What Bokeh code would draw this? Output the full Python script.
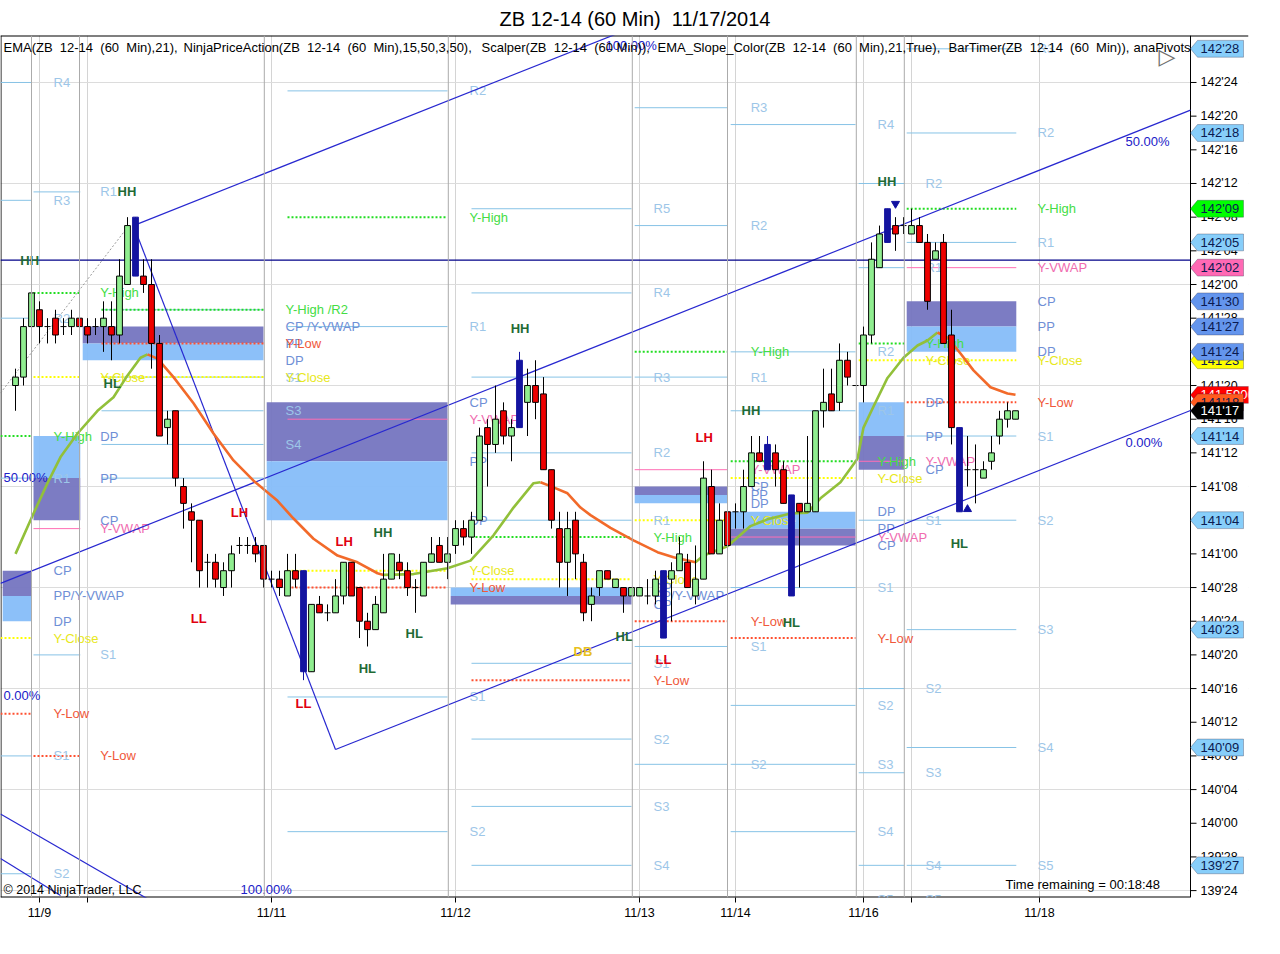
import numpy as np
from bokeh.plotting import figure
from bokeh.models import (ColumnDataSource, Range1d, FixedTicker, CustomJSTickFormatter,
                          Label, PolyAnnotation, Span)
from bokeh.core.properties import value
from bokeh.embed import file_html
from bokeh.resources import INLINE

FONT = "Liberation Sans"
BASE = 139.0  # all prices are kept in 32nds above 139'00


def px(t):
    return BASE + np.asarray(t, dtype=float) / 32.0


# ---------------- hourly bars (32nds above 139'00) ----------------
bar_open = [84, 85, 91, 93, 91, 92, 91, 91, 92, 91,
            91, 91, 91, 90, 96, 104, 97, 96, 89, 79,
            81, 72, 69, 68, 63, 63, 60, 62, 65, 65,
            65, 65, 61, 61, 59, 62, 62, 50, 58, 57,
            57, 59, 63, 60, 56, 55, 57, 61, 63, 62,
            60, 59, 63, 65, 63, 65, 67, 66, 68, 79,
            77, 81, 78, 79, 82, 84, 83, 74, 67, 63,
            68, 63, 58, 60, 62, 60, 60, 59, 59, 59,
            59, 62, 61, 62, 63, 59, 61, 72, 64, 69,
            69, 69, 72, 76, 77, 76, 74, 71, 70, 69,
            69, 81, 83, 82, 87, 84, 84, 90, 98, 105,
            103, 103, 102, 103, 101, 99, 101, 90, 79, 74,
            74, 73, 75, 78, 80, 80]
bar_high = [86, 92, 95, 94, 92, 93, 92, 93, 93, 92,
            92, 94, 94, 99, 104, 104, 99, 99, 90, 81,
            81, 73, 70, 68, 64, 64, 63, 65, 66, 66,
            66, 65, 62, 62, 64, 64, 62, 58, 59, 58,
            61, 63, 63, 60, 57, 59, 64, 64, 64, 63,
            61, 63, 66, 66, 66, 68, 68, 69, 79, 80,
            84, 82, 80, 88, 86, 87, 85, 74, 69, 69,
            69, 64, 60, 62, 62, 61, 60, 60, 60, 61,
            62, 62, 63, 66, 64, 65, 75, 74, 70, 70,
            70, 74, 78, 78, 78, 77, 75, 71, 70, 78,
            81, 86, 86, 89, 88, 84, 91, 101, 103, 105,
            104, 104, 105, 104, 102, 101, 102, 93, 79, 78,
            77, 75, 78, 81, 82, 81]
bar_low = [81, 84, 90, 89, 89, 89, 90, 90, 91, 89,
           90, 88, 87, 89, 96, 97, 95, 86, 78, 77,
           72, 67, 63, 60, 60, 60, 59, 60, 64, 64,
           63, 60, 60, 59, 59, 60, 49, 50, 57, 56,
           57, 58, 59, 54, 53, 55, 57, 61, 61, 59,
           57, 59, 63, 63, 61, 64, 65, 64, 68, 72,
           76, 77, 75, 79, 78, 80, 74, 67, 60, 59,
           61, 56, 56, 59, 61, 60, 57, 59, 59, 58,
           58, 54, 56, 62, 60, 58, 61, 64, 64, 65,
           67, 67, 72, 75, 74, 72, 70, 59, 60, 69,
           69, 79, 81, 81, 84, 84, 82, 89, 98, 101,
           100, 102, 102, 101, 93, 99, 89, 77, 69, 72,
           70, 73, 74, 77, 79, 80]
bar_close = [85, 91, 95, 91, 91, 90, 91, 92, 91, 90,
             91, 92, 90, 97, 103, 97, 96, 89, 78, 80,
             73, 70, 68, 62, 63, 61, 62, 64, 65, 65,
             64, 61, 61, 60, 62, 61, 50, 58, 57, 57,
             59, 63, 59, 56, 55, 58, 61, 64, 62, 60,
             60, 63, 64, 63, 64, 67, 66, 68, 78, 77,
             80, 78, 79, 87, 84, 82, 74, 68, 63, 67,
             64, 57, 59, 62, 61, 61, 59, 60, 60, 59,
             61, 54, 62, 64, 60, 61, 73, 64, 68, 65,
             69, 72, 76, 75, 74, 74, 70, 59, 69, 70,
             81, 82, 81, 87, 85, 84, 90, 99, 102, 101,
             102, 103, 103, 101, 94, 100, 89, 79, 69, 74,
             74, 74, 76, 80, 81, 81]
blue_bars = [15, 36, 63, 81, 94, 97, 109, 118]

# ---------------- EMA(21) ----------------
ema_k = [0, 2.25, 4, 5.625, 7.75, 10.25, 12.25, 14, 15.625, 16.5,
         17.75, 19.75, 22.25, 24.75, 27.25, 29.75, 32.75, 34.75, 37.25, 40.25,
         42.75, 45.25, 46, 49.75, 54, 56.875, 59.75, 62.25, 64.75, 65.625,
         67.25, 69, 70.625, 71.875, 74.375, 77.25, 80.25, 82.25, 85, 86,
         89, 91.875, 94, 96.875, 99, 100.625, 103.125, 105.25, 106, 107.25,
         109, 111, 112.75, 114, 115.25, 116.5, 118.125, 119.75, 121.875, 124, 125]
ema_t = [64.0, 68.8, 72.4, 75.5, 78.3, 81.0, 82.6, 85.2, 87.3, 87.7,
         87.2, 85.0, 81.9, 78.3, 75.1, 72.7, 70.3, 68.2, 65.8, 63.8,
         63.0, 61.7, 61.5, 61.6, 62.3, 63.2, 66.2, 69.5, 72.4, 72.5,
         71.9, 71.2, 69.5, 68.6, 67.1, 65.6, 64.2, 63.6, 63.0, 63.8,
         64.9, 67.3, 68.1, 68.8, 68.9, 70.6, 72.5, 75.3, 79.0, 81.5,
         84.9, 87.3, 88.75, 89.35, 90.3, 89.7, 87.8, 85.8, 83.8, 83.05, 82.9]

# ---------------- axis ticks ----------------
date_tick_k = [3, 9, 32, 55, 78, 90, 106, 112, 128]
date_tick_labels = ["11/9", "", "11/11", "11/12", "11/13", "11/14", "11/16", "", "11/18"]
session_break_k = [2.0, 8.0, 31.1, 54.1, 77.1, 89.0, 105.1, 111.1]
price_tick_32 = list(range(24, 121, 4))
price_grid_32 = list(range(24, 121, 12))

# ---------------- pivot sessions ----------------
zone_line_k0 = [-1.875, 2.25, 10.75, 34.0, 57.0, 77.4, 89.4, 105.4, 111.4]
zone_box_k0 = [-1.6, 2.25, 8.4, 31.4, 54.4, 77.4, 89.4, 105.4, 111.4]
zone_k1 = [2.0, 8.1, 31.0, 54.0, 77.0, 89.0, 105.0, 111.1, 125.1]
zone_label_k = [4.75, 10.6, 33.75, 56.75, 79.75, 91.9, 107.75, 113.75, 127.75]

piv_zone = ([0] * 12 + [1] * 9 + [2] * 11 + [3] * 11 + [4] * 15 + [5] * 12 + [6] * 15 + [7] * 13 + [8] * 15)
piv_kind = ["R", "R", "R", "YH", "R", "CP", "PP", "DP", "YC", "YL", "R", "R",
            "R", "YH", "YC", "DP", "PP", "CP", "VW", "R", "YL",
            "R", "YH", "CP", "PP", "YL", "DP", "R", "YC", "R", "R", "R",
            "R", "YH", "R", "CP", "VW", "PP", "DP", "YC", "YL", "R", "R",
            "R", "R", "R", "R", "R", "YH", "YC", "DP", "PP", "CP", "R", "YL", "R", "R", "R",
            "R", "R", "YH", "R", "VW", "CP", "PP", "DP", "YC", "YL", "R", "R",
            "R", "R", "R", "YH", "YC", "DP", "PP", "VW", "CP", "R", "YL", "R", "R", "R", "R",
            "R", "R", "YH", "YC", "DP", "PP", "VW", "CP", "R", "R", "R", "R", "R",
            "R", "R", "YH", "R", "VW", "CP", "PP", "DP", "YC", "YL", "R", "R", "R", "R", "R"]
piv_t = [120, 106, 92, 78, 73, 62, 59, 56, 54, 45, 40, 26,
         107, 95, 85, 78, 73, 68, 67, 52, 40,
         93, 93, 91, 89, 89, 87, 85, 85, 81, 77, 73,
         119, 104, 91, 82, 80, 75, 68, 62, 60, 47, 31,
         105, 95, 85, 76, 68, 66, 61, 60, 59, 58, 51, 49, 42, 34, 27,
         117, 103, 88, 85, 74, 72, 71, 70, 68, 56, 53, 39,
         115, 88, 81, 75, 73, 69, 67, 66, 65, 60, 54, 46, 39, 31, 23,
         108, 98, 89, 87, 82, 78, 75, 74, 68, 48, 38, 27, 23,
         124, 114, 105, 101, 98, 94, 91, 88, 87, 82, 78, 68, 55, 41, 27]
piv_text = ["R4", "R3", "R2", "Y-High", "R1", "CP", "PP/Y-VWAP", "DP", "Y-Close", "Y-Low", "S1", "S2",
            "R1", "Y-High", "Y-Close", "DP", "PP", "CP", "Y-VWAP", "S1", "Y-Low",
            "", "Y-High /R2", "CP /Y-VWAP", "PP", "Y-Low", "DP", "S1", "Y-Close", "S3", "S4", "",
            "R2", "Y-High", "R1", "CP", "Y-VWAP", "PP", "DP", "Y-Close", "Y-Low", "S1", "S2",
            "R5", "R4", "R3", "R2", "R1", "Y-High", "Y-Close", "DP", "PP/Y-VWAP", "CP", "S1", "Y-Low", "S2", "S3", "S4",
            "R3", "R2", "Y-High", "R1", "Y-VWAP", "CP", "PP", "DP", "Y-Close", "Y-Low", "S1", "S2",
            "R4", "R2", "R1", "Y-High", "Y-Close", "DP", "PP", "Y-VWAP", "CP", "S1", "Y-Low", "S2", "S3", "S4", "S5",
            "R2", "R1", "Y-High", "Y-Close", "DP", "PP", "Y-VWAP", "CP", "S1", "S2", "S3", "S4", "S5",
            "R3", "R2", "Y-High", "R1", "Y-VWAP", "CP", "PP", "DP", "Y-Close", "Y-Low", "S1", "S2", "S3", "S4", "S5"]

# ---------------- swing labels ----------------
sw_k = [0.6, 12.75, 11.0, 21.9, 26.9, 40.0, 44.75, 48.75, 42.9, 35.0,
        61.9, 69.75, 75.0, 80.0, 85.0, 90.75, 95.9, 107.75, 116.9]
sw_t = [98.85, 107.05, 84.24, 56.32, 68.91, 65.47, 66.54, 54.54, 50.38, 46.22,
        90.77, 52.40, 54.18, 51.45, 77.82, 81.03, 55.85, 108.24, 65.23]
sw_text = ["HH", "HH", "HL", "LL", "LH", "LH", "HH", "HL", "HL", "LL",
           "HH", "DB", "HL", "LL", "LH", "HH", "HL", "HH", "HL"]

# ---------------- drawn lines (channel) ----------------
ch_k0 = [14.75, -1.875, 40.0, 14.75, -1.875, -1.875]
ch_t0 = [103.0, 60.5, 40.76, 103.0, 33.1, 27.8]
ch_k1 = [78.125, 146.875, 146.875, 40.0, 16.875, 5.625]
ch_t1 = [126.9, 116.72, 81.03, 40.76, 22.82, 23.41]
dash_k = [-1.875, 14.0]
dash_t = [83.1, 102.8]
hline_t = 98.9

fib_k = [73.75, 138.75, 138.75, 28.125, -1.5, -1.5]
fib_t = [124.39, 112.99, 77.23, 24.12, 73.07, 47.17]
fib_text = ["100.00%", "50.00%", "0.00%", "100.00%", "50.00%", "0.00%"]

arrow_k = [110, 119]
arrow_t = [105.6, 69.3]
arrow_dir = ["down", "up"]

# right-axis price markers
tag_t = [27, 41, 55, 68, 78, 124, 114, 105, 101, 98, 87, 94, 91, 88, 82.88, 82, 81]
tag_kind = ["R", "R", "R", "R", "R", "R", "R", "YH", "R", "VW", "YC", "P", "P", "P", "EMA", "YL", "LAST"]
ema_last_value = 141.59006

# ---------------- styling tables ----------------
LINE_COL = {"R": "#87C3E6", "YH": "#22DD22", "YC": "#FFFF00", "YL": "#FF5030", "VW": "#FF6EB4"}
LABEL_COL = {"R": "#9DC6E8", "CP": "#6F8FD6", "PP": "#6F8FD6", "DP": "#6F8FD6",
             "YH": "#44DD44", "YC": "#E8E820", "YL": "#F0583A", "VW": "#F06CB0"}
TAG_FILL = {"R": "#87CEFA", "YH": "#00FF00", "VW": "#FF69B4", "YC": "#FFFF00", "P": "#6495ED",
            "EMA": "#FF0000", "YL": "#FF5A1E", "LAST": "#000000"}
TAG_TEXT = {"EMA": "white", "LAST": "white"}


def kx(page_x):          # page pixel -> bar index (layout helper for decorations)
    return (page_x - 15) / 8.0


AXIS_K = kx(1190)        # price-axis line of the chart window
FRAME_W = 1248
Y_LO, Y_HI = float(px(23.18)), float(px(125.58))

# ---------------- figure ----------------
p = figure(frame_width=FRAME_W, frame_height=862,
           x_range=Range1d(kx(0), kx(FRAME_W)), y_range=Range1d(Y_LO, Y_HI),
           y_axis_location="right", toolbar_location=None, output_backend="svg",
           title="ZB 12-14 (60 Min) \u00a011/17/2014",
           min_border_left=0, min_border_right=32, min_border_top=35,
           min_border_bottom=30, background_fill_color="white", border_fill_color="white")
p.title.align = "left"
p.title.offset = 499
p.title.standoff = 11
p.title.text_font = FONT
p.title.text_font_size = "20px"
p.title.text_font_style = "normal"
p.title.text_color = "black"
p.outline_line_color = None

p.xaxis.ticker = FixedTicker(ticks=date_tick_k)
p.xaxis.major_label_overrides = {k: lab for k, lab in zip(date_tick_k, date_tick_labels)}
p.xaxis.major_tick_out = 5
p.xaxis.major_tick_in = 0
p.xaxis.minor_tick_out = 0
p.xaxis.minor_tick_in = 0
p.xaxis.axis_line_color = None
p.xaxis.major_tick_line_color = "black"
p.xaxis.major_label_text_font = FONT
p.xaxis.major_label_text_font_size = "12.5px"
p.xaxis.major_label_text_color = "black"
p.xaxis.major_label_standoff = 3

price_ticks = list(px(price_tick_32))
p.yaxis.ticker = FixedTicker(ticks=price_ticks)
p.yaxis.formatter = CustomJSTickFormatter(code="""
    const w = Math.floor(tick + 1e-6);
    const f = Math.round((tick - w) * 32);
    return w + "'" + String(f).padStart(2, "0");
""")
p.yaxis.major_tick_out = 0
p.yaxis.major_tick_in = 0
p.yaxis.minor_tick_out = 0
p.yaxis.minor_tick_in = 0
p.yaxis.axis_line_color = None
p.yaxis.major_label_text_font = FONT
p.yaxis.major_label_text_font_size = "12.5px"
p.yaxis.major_label_text_color = "black"
p.yaxis.major_label_standoff = -(FRAME_W - 1200)

p.xgrid.ticker = FixedTicker(ticks=date_tick_k)
p.xgrid.grid_line_color = "#D4D4D4"
p.ygrid.ticker = FixedTicker(ticks=list(px(price_grid_32)))
p.ygrid.grid_line_color = "#DCDCDC"

# price-scale strip of the chart window (right of the plotting area)
p.quad(left=AXIS_K, right=kx(FRAME_W + 5), bottom=px(20), top=px(130), fill_color="white", line_color=None)
p.segment(x0=[AXIS_K] * len(price_ticks), x1=[kx(1196)] * len(price_ticks), y0=price_ticks, y1=price_ticks,
          line_color="black", line_width=1)

# chart-window border: top edge, left edge, bottom edge of plotting area, price-axis line
p.segment(x0=[kx(0), kx(0.5), kx(0), AXIS_K], x1=[kx(FRAME_W), kx(0.5), AXIS_K, AXIS_K],
          y0=[Y_HI, Y_LO, Y_LO, Y_LO], y1=[Y_HI, Y_HI, Y_LO, Y_HI],
          line_color="black", line_width=[2, 1, 2, 1])

for k in session_break_k:
    p.add_layout(Span(location=k, dimension="height", line_color="#ABABAB", line_width=1))

# ---------------- pivot zone boxes ----------------
box_l, box_r, box_top, box_bot, box_col = [], [], [], [], []
for z in range(len(zone_k1)):
    lv = {piv_kind[i]: piv_t[i] for i in range(len(piv_t)) if piv_zone[i] == z and piv_kind[i] in ("CP", "PP", "DP")}
    cp, pp, dp = px(lv["CP"]), px(lv["PP"]), px(lv["DP"])
    box_l += [zone_box_k0[z], zone_box_k0[z]]
    box_r += [zone_k1[z], zone_k1[z]]
    box_top += [max(cp, pp), max(pp, dp)]
    box_bot += [min(cp, pp), min(pp, dp)]
    box_col += ["#7575C0", "#86BDF9"]
p.quad(left=box_l, right=box_r, top=box_top, bottom=box_bot, fill_color=box_col,
       line_color=None, fill_alpha=0.95)

# ---------------- pivot lines ----------------
for kind, dash, width in (("R", "solid", 1), ("VW", "solid", 1), ("YH", "2 2", 2),
                          ("YC", "2 2", 2), ("YL", "2 2", 2)):
    idx = [i for i in range(len(piv_t)) if piv_kind[i] == kind]
    p.segment(x0=[zone_line_k0[piv_zone[i]] for i in idx], x1=[zone_k1[piv_zone[i]] for i in idx],
              y0=px([piv_t[i] for i in idx]), y1=px([piv_t[i] for i in idx]),
              line_color=LINE_COL[kind], line_width=width, line_dash=dash)

lab_src = ColumnDataSource(dict(
    x=[zone_label_k[z] for z in piv_zone], y=px(piv_t), text=piv_text,
    color=[LABEL_COL[k] for k in piv_kind]))
p.text(x="x", y="y", text="text", source=lab_src, text_color="color",
       text_font=value(FONT), text_font_size=value("13px"),
       text_baseline="middle", text_align="left")

# ---------------- channel / drawing lines ----------------
p.segment(x0=ch_k0, y0=px(ch_t0), x1=ch_k1, y1=px(ch_t1), line_color="#2828D0", line_width=1.2)
p.line(dash_k, px(dash_t), line_color="#808080", line_dash="2 2", line_width=0.8)
p.segment(x0=[kx(0)], x1=[AXIS_K], y0=[float(px(hline_t))], y1=[float(px(hline_t))],
          line_color="#000088", line_width=1.2)
p.text(x=fib_k, y=px(fib_t), text=fib_text, text_color="#2020C8",
       text_font=value(FONT), text_font_size=value("13px"), text_baseline="middle", text_align="left")

# ---------------- EMA coloured by slope ----------------
ek = np.array(ema_k, dtype=float)
ev = px(ema_t)
rising = np.diff(ev) >= 0
up_xs, up_ys, dn_xs, dn_ys = [], [], [], []
start = 0
for i in range(1, len(rising) + 1):
    if i == len(rising) or rising[i] != rising[start]:
        seg_x, seg_y = list(ek[start:i + 1]), list(ev[start:i + 1])
        if rising[start]:
            up_xs.append(seg_x); up_ys.append(seg_y)
        else:
            dn_xs.append(seg_x); dn_ys.append(seg_y)
        start = i
p.multi_line(up_xs, up_ys, line_color="#92C03A", line_width=2.6, line_join="round")
p.multi_line(dn_xs, dn_ys, line_color="#F26A2A", line_width=2.6, line_join="round")

# ---------------- candles ----------------
o, h, l, c = px(bar_open), px(bar_high), px(bar_low), px(bar_close)
kk = np.arange(len(o))
is_blue = np.isin(kk, blue_bars)
wick_col = np.where(is_blue, "#1414A0", "black")
p.segment(x0=kk, y0=h, x1=kk, y1=l, line_color=list(wick_col), line_width=1)
body = (c != o) | is_blue
fill = np.where(is_blue, "#1414A0", np.where(c > o, "#90EE90", "#EE0000"))
edge = np.where(is_blue, "#1414A0", "black")
p.vbar(x=kk[body], width=0.72, top=np.maximum(o, c)[body], bottom=np.minimum(o, c)[body],
       fill_color=list(fill[body]), line_color=list(edge[body]), line_width=1)
dj = (c == o) & ~is_blue
p.segment(x0=kk[dj] - 0.38, x1=kk[dj] + 0.38, y0=o[dj], y1=o[dj], line_color="black", line_width=1)

# ---------------- swing labels and arrows ----------------
sw_col = ["#E00010" if s[0] == "L" else ("#E8C020" if s == "DB" else "#1F6B35") for s in sw_text]
p.text(x=sw_k, y=px(sw_t), text=sw_text, text_color=sw_col, text_font=value(FONT),
       text_font_size=value("13px"), text_font_style="bold", text_baseline="middle", text_align="left")
for k, t, d in zip(arrow_k, arrow_t, arrow_dir):
    p.scatter([k], [float(px(t))], marker="inverted_triangle" if d == "down" else "triangle",
              size=8, color="#1010A0")


# ---------------- texts in screen units (frame starts at page x=0, bottom at page y=897) ----------------
def sy(page_y):
    return 897 - page_y


legend_parts = ["EMA(ZB \u00a012-14 \u00a0(60 \u00a0Min),21),",
                "NinjaPriceAction(ZB \u00a012-14 \u00a0(60 \u00a0Min),15,50,3,50),",
                "Scalper(ZB \u00a012-14 \u00a0(60 Min)),",
                "EMA_Slope_Color(ZB \u00a012-14 \u00a0(60 \u00a0Min),21,True),",
                "BarTimer(ZB \u00a012-14 \u00a0(60 \u00a0Min)),",
                "anaPivots"]
legend_x = [3, 183, 481, 657, 948, 1133]
for txt, x in zip(legend_parts, legend_x):
    p.add_layout(Label(x=x, y=sy(47), x_units="screen", y_units="screen", text=txt,
                       text_baseline="middle", text_font=FONT, text_font_size="13px", text_color="black"))
p.add_layout(Label(x=1005, y=sy(884), x_units="screen", y_units="screen",
                   text="Time remaining = 00:18:48", text_baseline="middle",
                   text_font=FONT, text_font_size="13px", text_color="black"))
p.add_layout(Label(x=3, y=sy(889), x_units="screen", y_units="screen",
                   text="\u00a9 2014 NinjaTrader, LLC", text_baseline="middle",
                   text_font=FONT, text_font_size="12.5px", text_color="black"))
p.add_layout(Label(x=1158, y=sy(56), x_units="screen", y_units="screen", text="\u25b7",
                   text_baseline="middle", text_font="DejaVu Sans", text_font_size="22px", text_color="#707070"))


# ---------------- right-axis price markers ----------------
def fmt32(t):
    pr = float(px(t))
    w = int(np.floor(pr + 1e-6))
    f = int(round((pr - w) * 32))
    return "%d'%02d" % (w, f)


hh = 1.0 / 32
for t, kind in zip(tag_t, tag_kind):
    y = float(px(t))
    right = kx(1268) if kind == "EMA" else kx(1243)
    p.add_layout(PolyAnnotation(xs=[AXIS_K, kx(1197), right, right, kx(1197)],
                                ys=[y, y + hh, y + hh, y - hh, y - hh],
                                fill_color=TAG_FILL[kind], fill_alpha=1, line_color="#202040", line_width=1))
    txt = "%.5f" % ema_last_value if kind == "EMA" else fmt32(t)
    p.add_layout(Label(x=kx(1200), y=y, text=txt, text_baseline="middle", text_font=FONT,
                       text_font_size="13px", text_color=TAG_TEXT.get(kind, "#0A1A50")))

open("out.html", "w").write(file_html(p, INLINE))
